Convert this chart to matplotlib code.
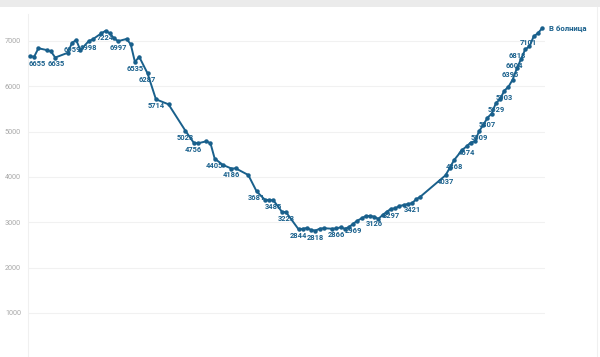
import matplotlib
matplotlib.use("Agg")
import matplotlib.pyplot as plt
from matplotlib.patches import Rectangle
from matplotlib.lines import Line2D

# hospitalised patients, one entry per reported day (gaps = no report)
days = [0, 1, 2, 4, 5, 6, 9, 10, 11, 12, 14, 15, 17, 18, 19, 20, 21, 23, 24, 25,
        26, 28, 30, 33, 37, 39, 40, 42, 43, 44, 46, 48, 49, 52, 54, 56, 57, 58, 60, 61,
        64, 65, 66, 67, 68, 69, 70, 72, 73, 74, 75, 76, 77, 78, 79, 80, 81, 82, 83, 84,
        85, 86, 87, 88, 89, 90, 91, 92, 93,
        99, 100, 101, 103, 104, 105, 106, 107, 108, 109, 110, 111, 112, 113, 114, 115,
        116, 117, 118, 119, 120, 121, 122]
hospital = [6660, 6655, 6840, 6800, 6770, 6635, 6740, 6959, 7020, 6800, 6998, 7040, 7170, 7224, 7170, 7060, 6997, 7045, 6927, 6535,
            6654, 6287, 5714, 5603, 5023, 4756, 4743, 4787, 4743, 4405, 4264, 4186, 4191, 4044, 3681, 3495, 3492, 3485, 3234, 3223,
            2844, 2858, 2875, 2830, 2818, 2858, 2870, 2858, 2866, 2889, 2858, 2895, 2969, 3036, 3088, 3139, 3140, 3126, 3075, 3161,
            3234, 3297, 3309, 3360, 3380, 3404, 3421, 3508, 3565,
            4037, 4200, 4368, 4600, 4674, 4760, 4790, 5009, 5150, 5307, 5400, 5629, 5720, 5903, 5990, 6150,
            6395, 6604, 6818, 6880, 7101, 7170, 7280]

# days that carry a value label
label_days = [1, 6, 10, 14, 18, 21, 25, 28, 30, 37, 39, 44, 48, 54, 58, 61,
              64, 68, 73, 77, 82, 86, 91, 99, 101, 104, 107, 109, 111, 113,
              116, 117, 118, 120]
series_name = "В болница"
yticks = [1000, 2000, 3000, 4000, 5000, 6000, 7000]

# small horizontal nudges (points) for crowded labels
label_dx = {1: 2, 6: 1, 116: -5, 117: -5, 118: -6, 120: -4}

blue = "#19608c"

fig = plt.figure(figsize=(6, 3.57), dpi=100)
fig.patch.set_facecolor("white")
fig.patches.append(Rectangle((0, 1 - 7 / 357), 1, 7 / 357, transform=fig.transFigure,
                             facecolor="#ebebeb", edgecolor="none", zorder=0))
fig.lines.append(Line2D([597 / 600, 597 / 600], [0, 1 - 7 / 357], transform=fig.transFigure,
                        color="#f0f0f0", lw=0.8))

ax = fig.add_axes([28 / 600, -1.3 / 357, 517 / 600, 344.5 / 357])
ax.plot(days, hospital, color=blue, lw=1.4, marker="o", ms=2.2, zorder=3)

for d in label_days:
    v = hospital[days.index(d)]
    ax.annotate(str(v), (d, v), xytext=(label_dx.get(d, 0), -5), textcoords="offset points",
                ha="center", va="center", fontsize=5.4, fontweight="bold",
                family=["Roboto", "DejaVu Sans"], color=blue, zorder=4)

ax.annotate(series_name, (days[-1], hospital[-1]), xytext=(5, 0), textcoords="offset points",
            ha="left", va="center", fontsize=5.6, fontweight="bold",
            family=["Roboto", "DejaVu Sans"], color=blue, annotation_clip=False)

ax.set_xlim(-0.48, 122.7)
ax.set_ylim(0, 7600)
ax.set_yticks(yticks)
ax.set_yticklabels([str(t) for t in yticks], fontsize=5.2, color="#a8a8a8", family="Roboto")
ax.set_xticks([])
ax.tick_params(axis="y", length=0, pad=5)
ax.grid(axis="y", color="#f1f1f1", lw=0.8)
ax.set_axisbelow(True)
for s in ["top", "right", "bottom"]:
    ax.spines[s].set_visible(False)
ax.spines["left"].set_color("#f0f0f0")
ax.spines["left"].set_linewidth(0.8)

fig.savefig("out.png", dpi=100)
